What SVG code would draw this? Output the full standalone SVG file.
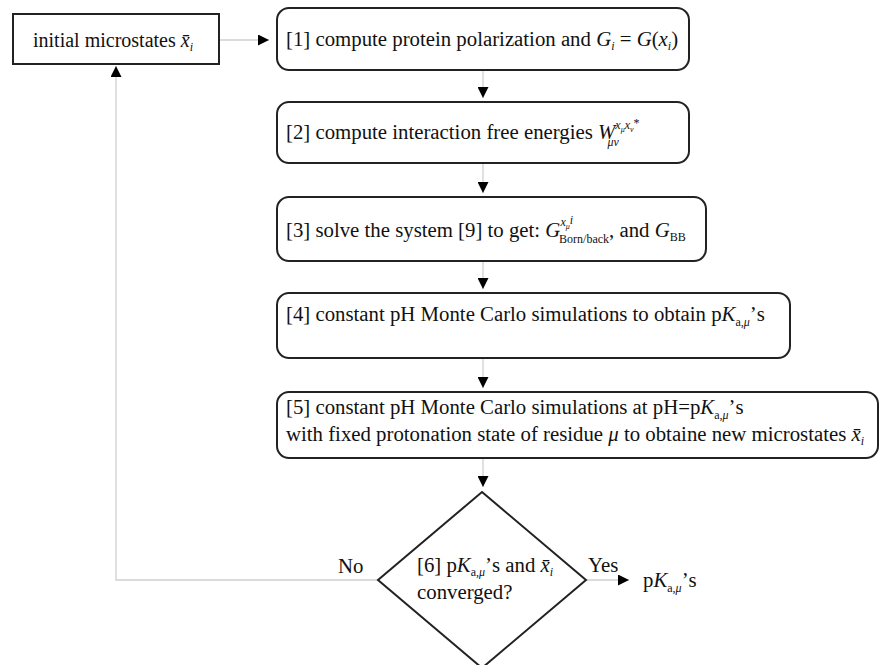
<svg xmlns="http://www.w3.org/2000/svg" width="891" height="665" viewBox="0 0 891 665">
<defs>
<style>
.t{font-family:"Liberation Serif","Times New Roman",serif;font-size:20.8px;fill:#111}
.i{font-style:italic}
.s{font-size:12px}
.ss{font-size:8px}
.box{fill:#fff;stroke:#222;stroke-width:2}
.ln{stroke:#cfcfcf;stroke-width:1.3;fill:none}
</style>
<marker id="ah" markerUnits="userSpaceOnUse" markerWidth="11" markerHeight="11" refX="11" refY="5.5" orient="auto">
<path d="M0,0 L11,5.5 L0,11 z" fill="#000"/>
</marker>
</defs>
<rect width="891" height="665" fill="#fff"/>
<g id="connectors">
<path class="ln" d="M219,40 H269" marker-end="url(#ah)"/>
<path class="ln" d="M483,70 V98" marker-end="url(#ah)"/>
<path class="ln" d="M483,163 V193" marker-end="url(#ah)"/>
<path class="ln" d="M483,261 V289" marker-end="url(#ah)"/>
<path class="ln" d="M483,358 V388" marker-end="url(#ah)"/>
<path class="ln" d="M483,458 V487" marker-end="url(#ah)"/>
<path class="ln" d="M378,580 H116 V66" marker-end="url(#ah)"/>
<path class="ln" d="M586,580 H629" marker-end="url(#ah)"/>
<text class="t" x="338" y="573">No</text>
<text class="t" x="588" y="572">Yes</text>
</g>
<g id="initial">
<rect class="box" x="13" y="14" width="206" height="50"/>
<text class="t" x="33" y="47" style="font-size:20px">initial microstates <tspan class="i">x̄</tspan><tspan class="s i" dy="4">i</tspan></text>
</g>
<g id="step1">
<rect class="box" x="277" y="8" width="412" height="62" rx="12"/>
<text class="t" x="286" y="46">[1] compute protein polarization and <tspan class="i">G</tspan><tspan class="s i" dy="4">i</tspan><tspan dy="-4"> = </tspan><tspan class="i">G</tspan>(<tspan class="i">x</tspan><tspan class="s i" dy="4">i</tspan><tspan dy="-4">)</tspan></text>
</g>
<g id="step2">
<rect class="box" x="277" y="102" width="412" height="61" rx="12"/>
<text class="t" x="286" y="139">[2] compute interaction free energies <tspan class="i">W</tspan><tspan class="s i" dy="-10">x</tspan><tspan class="ss i" dy="3">μ</tspan><tspan class="s i" dy="-3">x</tspan><tspan class="ss i" dy="3">ν</tspan><tspan class="s" dy="-5">*</tspan><tspan class="s i" dx="-32" dy="19">μν</tspan></text>
</g>
<g id="step3">
<rect class="box" x="277" y="197" width="429" height="64" rx="12"/>
<text class="t" x="286" y="237">[3] solve the system [9] to get: <tspan class="i">G</tspan><tspan class="s i" dy="-11">x</tspan><tspan class="ss i" dy="3">μ</tspan><tspan class="s i" dy="-5">i</tspan><tspan class="s" dx="-14" dy="19">Born/back</tspan><tspan dy="-6">, and </tspan><tspan class="i">G</tspan><tspan class="s" dy="4">BB</tspan></text>
</g>
<g id="step4">
<rect class="box" x="277" y="293" width="513" height="65" rx="12"/>
<text class="t" x="286" y="321">[4]  constant pH Monte Carlo simulations to obtain p<tspan class="i">K</tspan><tspan class="s" dy="5">a,<tspan class="i">μ</tspan></tspan><tspan dy="-5">’s</tspan></text>
</g>
<g id="step5">
<rect class="box" x="277" y="392" width="601" height="66" rx="12"/>
<text class="t" x="286" y="414">[5] constant pH Monte Carlo simulations at pH=p<tspan class="i">K</tspan><tspan class="s" dy="5">a,<tspan class="i">μ</tspan></tspan><tspan dy="-5">’s</tspan></text>
<text class="t" x="286" y="441">with fixed protonation state of residue <tspan class="i">μ</tspan>  to obtaine new microstates <tspan class="i">x̄</tspan><tspan class="s i" dy="4">i</tspan></text>
</g>
<g id="step6">
<polygon class="box" points="482,492 586,580 482,668 378,580"/>
<text class="t" x="417" y="572">[6] p<tspan class="i">K</tspan><tspan class="s" dy="4">a,<tspan class="i">μ</tspan></tspan><tspan dy="-4">’s and </tspan><tspan class="i">x̄</tspan><tspan class="s i" dy="4">i</tspan></text>
<text class="t" x="417" y="599">converged?</text>
</g>
<g id="result">
<text class="t" x="643" y="587">p<tspan class="i">K</tspan><tspan class="s" dy="5">a,<tspan class="i">μ</tspan></tspan><tspan dy="-5">’s</tspan></text>
</g>
</svg>
